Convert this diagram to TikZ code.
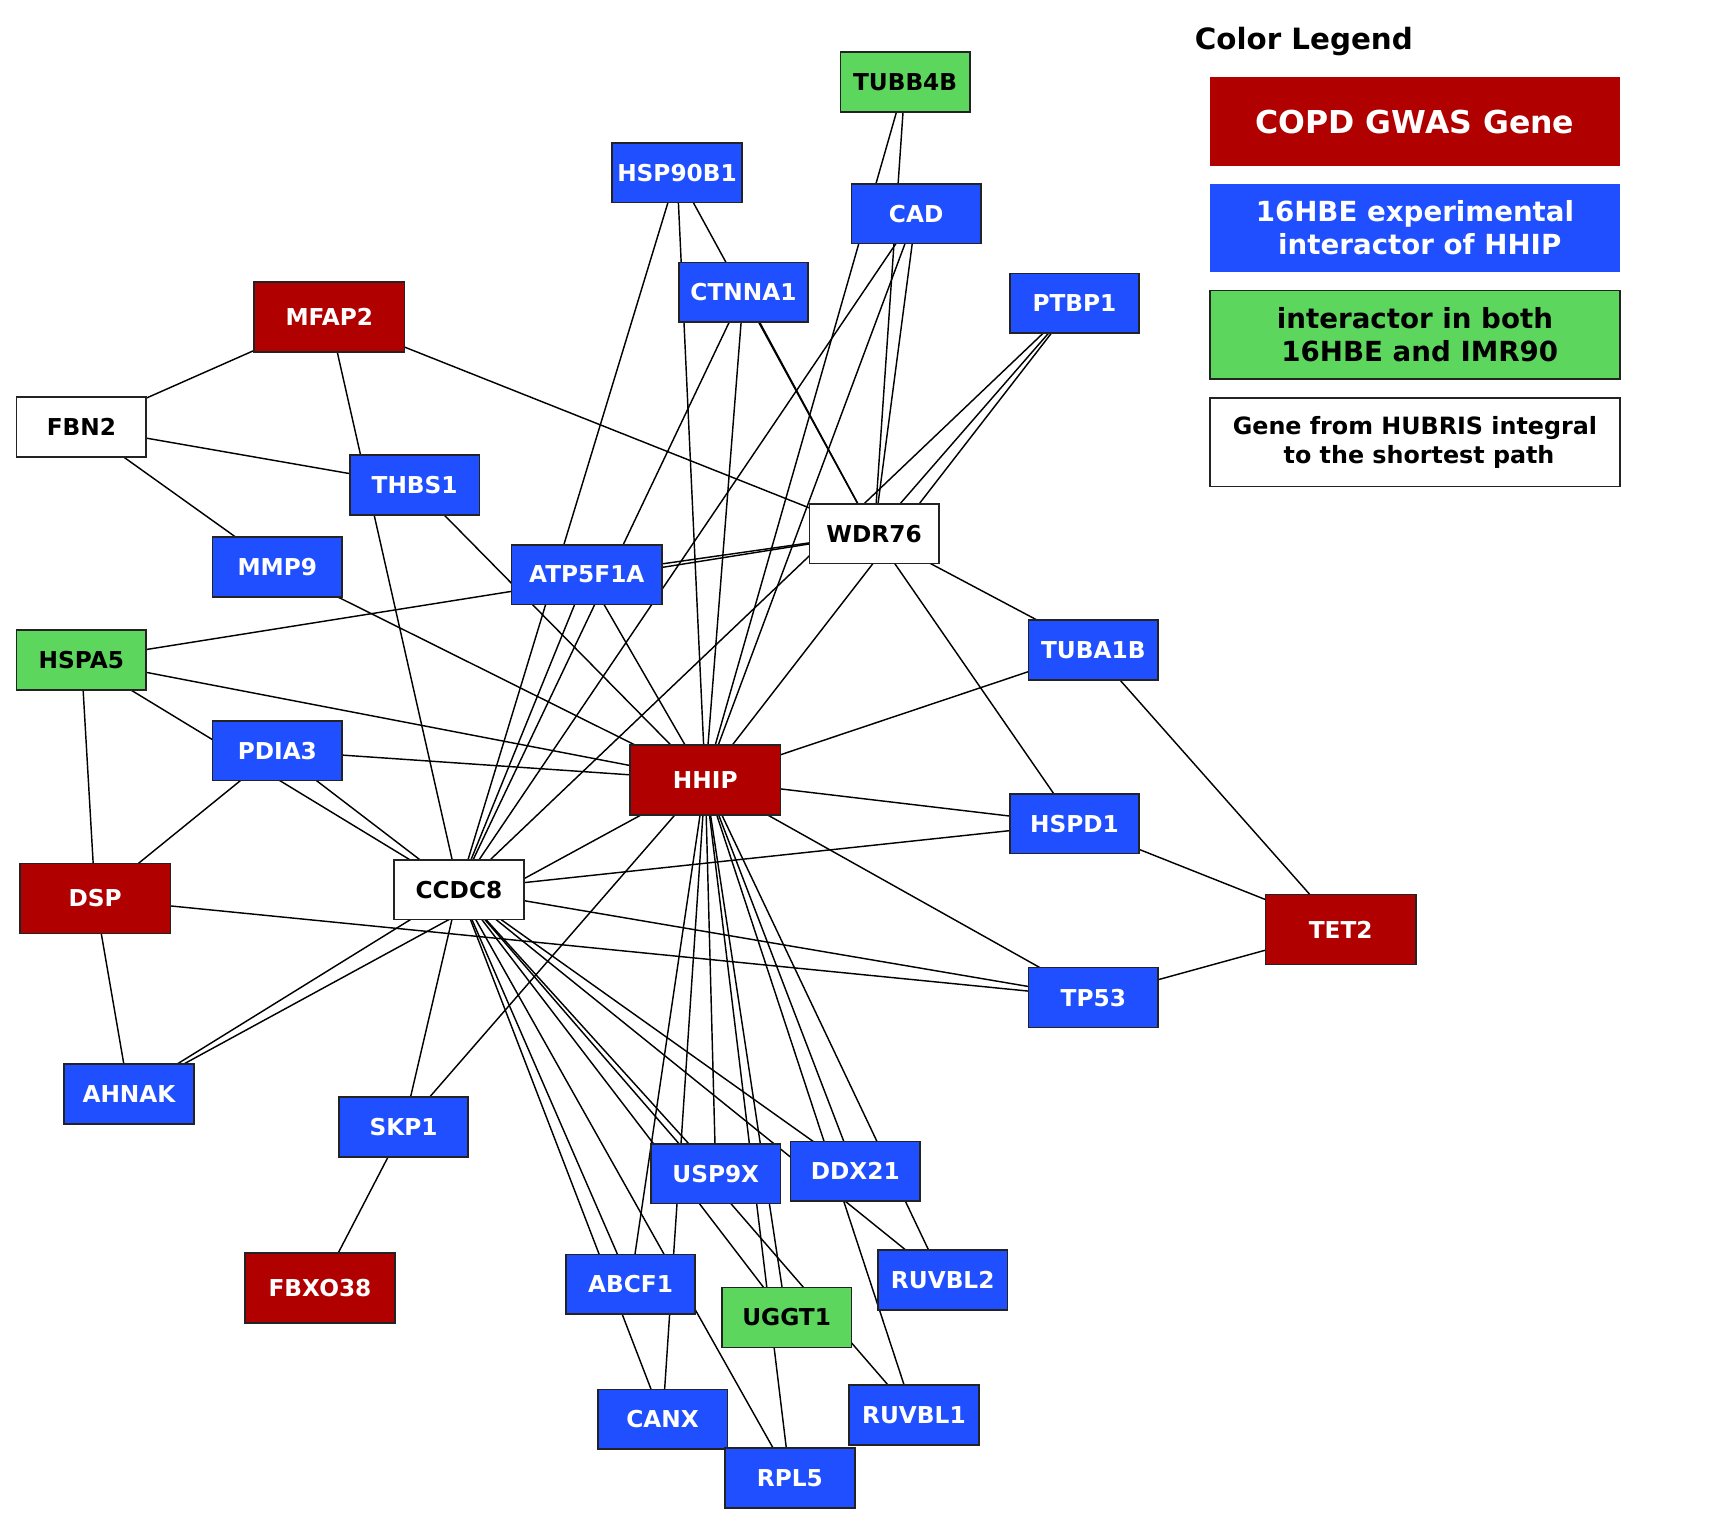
\documentclass[tikz,border=0pt]{standalone}
\usepackage{fontspec}
\setmainfont{DejaVu Sans}
\definecolor{gwasred}{RGB}{176,0,0}
\definecolor{hbeblue}{RGB}{31,79,255}
\definecolor{bothgreen}{RGB}{92,214,92}
\definecolor{boxline}{RGB}{35,35,35}
\newcommand\genefont{\fontsize{21}{25}\selectfont\bfseries}
\newcommand\legtitlefont{\fontsize{26.5}{30}\selectfont\bfseries}
\newcommand\copdfont{\fontsize{28.5}{33}\selectfont\bfseries}
\newcommand\legfont{\fontsize{25}{30}\selectfont\bfseries}
\newcommand\hubfont{\fontsize{21.5}{25.6}\selectfont\bfseries}
\pgfdeclarelayer{paper}
\pgfdeclarelayer{edges}
\pgfsetlayers{paper,edges,main}
\begin{document}
\begin{tikzpicture}[x=1pt,y=-1pt,
  gene/.style={draw=boxline, line width=1.5pt, inner sep=0pt, font=\genefont,
               minimum width=117pt, minimum height=54pt},
  copd/.style={gene, fill=gwasred, text=white, minimum width=136pt, minimum height=63pt},
  hbe/.style={gene, fill=hbeblue, text=white},
  both/.style={gene, fill=bothgreen, text=black},
  hub/.style={gene, fill=white, text=black},
  link/.style={line width=1.3pt, black},
  legbox/.style={inner sep=0pt, minimum width=370pt, minimum height=80pt, align=center, line width=1.5pt}
]
\begin{pgfonlayer}{paper}
\fill[white] (0,0) rectangle (1568,1378);
\end{pgfonlayer}
\useasboundingbox (0,0) rectangle (1568,1378);

% genes
\node[both] (TUBB4B)  at (817.5,74)    {TUBB4B};
\node[hbe]  (HSP90B1) at (611.5,156)   {HSP90B1};
\node[hbe]  (CAD)     at (827.5,193)   {CAD};
\node[hbe]  (CTNNA1)  at (671.5,264)   {CTNNA1};
\node[hbe]  (PTBP1)   at (970.5,274)   {PTBP1};
\node[copd] (MFAP2)   at (297.5,286.5) {MFAP2};
\node[hub]  (FBN2)    at (73.5,385.5)  {FBN2};
\node[hbe]  (THBS1)   at (374.5,438)   {THBS1};
\node[hub]  (WDR76)   at (789.5,482)   {WDR76};
\node[hbe]  (MMP9)    at (250.5,512)   {MMP9};
\node[hbe, minimum width=136pt] (ATP5F1A) at (530,519) {ATP5F1A};
\node[both] (HSPA5)   at (73.5,596)    {HSPA5};
\node[hbe]  (TUBA1B)  at (987.5,587)   {TUBA1B};
\node[hbe]  (PDIA3)   at (250.5,678)   {PDIA3};
\node[copd] (HHIP)    at (637,704.5)   {HHIP};
\node[hbe]  (HSPD1)   at (970.5,744)   {HSPD1};
\node[hub]  (CCDC8)   at (414.5,803.5) {CCDC8};
\node[copd] (DSP)     at (86,811.5)    {DSP};
\node[copd] (TET2)    at (1211,839.5)  {TET2};
\node[hbe]  (TP53)    at (987.5,901)   {TP53};
\node[hbe]  (AHNAK)   at (116.5,988)   {AHNAK};
\node[hbe]  (SKP1)    at (364.5,1018)  {SKP1};
\node[hbe]  (USP9X)   at (646.5,1060)  {USP9X};
\node[hbe]  (DDX21)   at (772.5,1058)  {DDX21};
\node[copd] (FBXO38)  at (289,1163.5)  {FBXO38};
\node[hbe]  (ABCF1)   at (569.5,1160)  {ABCF1};
\node[hbe]  (RUVBL2)  at (851.5,1156)  {RUVBL2};
\node[both] (UGGT1)   at (710.5,1190)  {UGGT1};
\node[hbe]  (RUVBL1)  at (825.5,1278)  {RUVBL1};
\node[hbe]  (CANX)    at (598.5,1282)  {CANX};
\node[hbe]  (RPL5)    at (713.5,1335)  {RPL5};

% interactions, drawn centre to centre beneath the boxes
\begin{pgfonlayer}{edges}
\foreach \a/\b in {
  MFAP2/FBN2, MFAP2/CCDC8, MFAP2/WDR76, FBN2/THBS1, FBN2/MMP9,
  THBS1/HHIP, MMP9/HHIP,
  HSPA5/WDR76, HSPA5/HHIP, HSPA5/CCDC8, HSPA5/DSP,
  PDIA3/HHIP, PDIA3/DSP, PDIA3/CCDC8,
  DSP/TP53, DSP/AHNAK, CCDC8/AHNAK, AHNAK/HHIP,
  CCDC8/HSP90B1, CCDC8/ATP5F1A, CCDC8/CTNNA1, CCDC8/CAD, CCDC8/PTBP1,
  CCDC8/HSPD1, CCDC8/TP53, CCDC8/SKP1, CCDC8/CANX, CCDC8/ABCF1,
  CCDC8/RPL5, CCDC8/UGGT1, CCDC8/RUVBL1, CCDC8/USP9X, CCDC8/RUVBL2, CCDC8/DDX21,
  HSP90B1/HHIP, HSP90B1/WDR76, CTNNA1/WDR76, CTNNA1/HHIP,
  ATP5F1A/WDR76, ATP5F1A/HHIP, CAD/HHIP, CAD/WDR76,
  TUBB4B/HHIP, TUBB4B/WDR76, PTBP1/WDR76, PTBP1/HHIP,
  WDR76/TUBA1B, WDR76/HSPD1,
  HHIP/TUBA1B, HHIP/HSPD1, HHIP/TP53, HHIP/SKP1, HHIP/ABCF1, HHIP/CANX,
  HHIP/USP9X, HHIP/UGGT1, HHIP/RPL5, HHIP/DDX21, HHIP/RUVBL1, HHIP/RUVBL2,
  TUBA1B/TET2, HSPD1/TET2, TP53/TET2, SKP1/FBXO38}
  \draw[link] (\a.center) -- (\b.center);
\end{pgfonlayer}

% colour legend
\node[font=\legtitlefont, anchor=base west, inner sep=0pt] (legtitle) at (1079,44.6) {Color Legend};
\node[legbox, fill=gwasred, text=white, font=\copdfont] (legred) at (1278,110) {COPD GWAS Gene};
\node[legbox, fill=hbeblue, text=white, font=\legfont] (legblue) at (1278,206)
  {16HBE experimental\\\hspace*{0.348em}interactor of HHIP};
\node[legbox, fill=bothgreen, draw=boxline, text=black, font=\legfont] (leggreen) at (1278,302.5)
  {interactor in both\\\hspace*{0.348em}16HBE and IMR90};
\node[legbox, fill=white, draw=boxline, text=black, font=\hubfont] (leghub) at (1278,399.5)
  {Gene from HUBRIS integral\\\hspace*{0.348em}to the shortest path};
\end{tikzpicture}
\end{document}
